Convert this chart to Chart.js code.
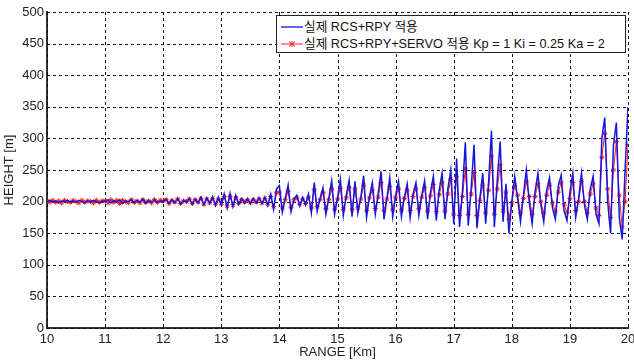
<!DOCTYPE html>
<html>
<head>
<meta charset="utf-8">
<script src="https://cdn.jsdelivr.net/npm/chart.js"></script>
<style>
  body { margin: 0; background: #fff; }
  #wrap { position: relative; width: 634px; height: 360px; }
  #legend {
    position: absolute; left: 276px; top: 15px; width: 348px; height: 36px;
    background: #fff; border: 1px solid #222;
    font-family: "Liberation Sans", "Noto Sans CJK KR", sans-serif; font-size: 12.7px; color: #111;
  }
  #legend .row { position: absolute; left: 0; height: 16px; width: 100%; }
  #legend svg { position: absolute; left: 3px; top: 3px; }
  #legend span { position: absolute; left: 27px; top: 0; line-height: 16px; white-space: nowrap; }
</style>
</head>
<body>
<div id="wrap">
  <canvas id="heightChart" width="634" height="360"></canvas>
  <div id="legend">
    <div class="row" style="top:3px">
      <svg width="24" height="10"><line x1="1" y1="5" x2="23" y2="5" stroke="#1515e0" stroke-width="1.3"/></svg>
      <span>실제 RCS+RPY 적용</span>
    </div>
    <div class="row" style="top:20px">
      <svg width="24" height="10">
        <line x1="1" y1="5" x2="23" y2="5" stroke="#ff1a1a" stroke-width="1"/>
        <line x1="12" y1="2" x2="12" y2="8" stroke="#ff1a1a" stroke-width="1"/>
        <line x1="9" y1="2.5" x2="15" y2="7.5" stroke="#ff1a1a" stroke-width="1"/>
        <line x1="9" y1="7.5" x2="15" y2="2.5" stroke="#ff1a1a" stroke-width="1"/>
      </svg>
      <span>실제 RCS+RPY+SERVO 적용 Kp = 1 Ki = 0.25 Ka = 2</span>
    </div>
  </div>
</div>
<script>
// range samples [Km]
const rangeKm = [
  10.00,10.05,10.10,10.15,10.20,10.25,10.30,10.35,10.40,10.45,10.50,10.55,10.60,10.65,10.70,10.75,10.80,10.85,10.90,10.95,
  11.00,11.05,11.10,11.15,11.20,11.25,11.30,11.35,11.40,11.45,11.50,11.55,11.60,11.65,11.70,11.75,11.80,11.85,11.90,11.95,
  12.00,12.05,12.10,12.15,12.20,12.25,12.30,12.35,12.40,12.45,12.50,12.55,12.60,12.65,12.70,12.75,12.80,12.85,12.90,12.95,
  13.00,13.05,13.10,13.15,13.20,13.25,13.30,13.35,13.40,13.45,13.50,13.55,13.60,13.65,13.70,13.75,13.80,13.85,13.90,13.95,
  14.00,14.05,14.10,14.15,14.20,14.25,14.30,14.35,14.40,14.45,14.50,14.55,14.60,14.65,14.70,14.75,14.80,14.85,14.90,14.95,
  15.00,15.05,15.10,15.15,15.20,15.25,15.30,15.35,15.40,15.45,15.50,15.55,15.60,15.65,15.70,15.75,15.80,15.85,15.90,15.95,
  16.00,16.05,16.10,16.15,16.20,16.25,16.30,16.35,16.40,16.45,16.50,16.55,16.60,16.65,16.70,16.75,16.80,16.85,16.90,16.95,
  17.00,17.05,17.10,17.15,17.20,17.25,17.30,17.35,17.40,17.45,17.50,17.55,17.60,17.65,17.70,17.75,17.80,17.85,17.90,17.95,
  18.00,18.05,18.10,18.15,18.20,18.25,18.30,18.35,18.40,18.45,18.50,18.55,18.60,18.65,18.70,18.75,18.80,18.85,18.90,18.95,
  19.00,19.05,19.10,19.15,19.20,19.25,19.30,19.35,19.40,19.45,19.50,19.55,19.60,19.65,19.70,19.75,19.80,19.85,19.90,19.95,20.00
];

// height [m], RCS+RPY only
const heightRcsRpy = [
  200,202,199,201,198,201,200,202,199,201,199,202,200,198,201,199,202,200,198,201,
  200,203,198,202,199,203,197,201,200,203,198,202,199,204,197,202,199,203,198,201,
  200,204,197,203,198,205,196,202,199,205,196,204,198,207,195,206,197,208,194,207,
  195,212,190,213,192,210,196,205,198,204,197,205,198,206,197,207,194,212,188,220,
  225,183,205,226,184,204,210,193,207,195,212,182,230,185,205,222,180,205,233,180,
  205,235,178,210,234,176,232,182,205,241,175,208,230,180,212,248,172,205,238,176,
  210,232,176,207,228,174,212,230,178,210,233,172,215,240,170,218,245,172,220,250,
  165,268,160,215,294,162,220,290,158,205,245,165,230,312,160,235,295,168,228,150,
  200,240,205,168,210,250,200,165,215,245,195,168,218,238,190,172,225,242,185,170,
  215,245,175,205,245,195,172,220,240,180,165,300,333,200,150,290,325,175,140,250,350
];

// height [m], RCS+RPY+SERVO (Kp = 1, Ki = 0.25, Ka = 2)
const heightServo = [
  201,199,202,199,201,198,202,200,199,202,200,198,202,199,201,200,198,202,199,201,
  201,198,203,199,202,197,202,200,198,203,199,201,198,203,199,201,198,203,199,202,
  201,203,197,202,199,204,197,201,200,204,197,203,199,205,196,204,198,205,196,204,
  196,208,193,208,195,206,197,203,199,203,198,203,199,204,198,205,196,208,192,214,
  215,190,203,216,191,203,206,196,204,197,207,190,219,192,203,214,189,203,220,188,
  204,221,188,206,222,187,220,190,204,226,186,206,218,189,207,230,186,204,224,187,
  207,220,187,205,218,186,208,220,189,207,222,185,209,227,184,211,230,185,212,235,
  180,240,178,208,252,180,212,246,178,202,226,182,218,272,180,220,258,185,215,172,
  198,225,210,182,205,232,208,180,208,228,200,182,210,226,198,184,215,230,195,183,
  205,230,186,200,232,200,182,212,228,190,178,270,308,220,175,250,295,210,160,200,290
];

const xTicks = [10, 11, 12, 13, 14, 15, 16, 17, 18, 19, 20];
const yTicks = [0, 50, 100, 150, 200, 250, 300, 350, 400, 450, 500];

const toPoints = ys => ys.map((y, i) => ({ x: rangeKm[i], y }));

const axisFont = { family: '"Liberation Sans", Arial, sans-serif', size: 13 };

// dotted grid drawn under the data lines
const dottedGrid = {
  id: 'dottedGrid',
  beforeDatasetsDraw(chart) {
    const { ctx, chartArea: a, scales: { x, y } } = chart;
    ctx.save();
    ctx.strokeStyle = '#111';
    ctx.lineWidth = 1;
    ctx.setLineDash([3, 3]);
    xTicks.forEach(v => {
      const px = Math.round(x.getPixelForValue(v)) + 0.5;
      ctx.beginPath(); ctx.moveTo(px, a.top); ctx.lineTo(px, a.bottom); ctx.stroke();
    });
    yTicks.forEach(v => {
      const py = Math.round(y.getPixelForValue(v)) + 0.5;
      ctx.beginPath(); ctx.moveTo(a.left, py); ctx.lineTo(a.right, py); ctx.stroke();
    });
    ctx.restore();
  }
};

new Chart(document.getElementById('heightChart'), {
  type: 'line',
  data: {
    datasets: [
      {
        label: '실제 RCS+RPY 적용',
        data: toPoints(heightRcsRpy),
        borderColor: '#1515e0',
        borderWidth: 1.5,
        pointRadius: 0,
        tension: 0
      },
      {
        label: '실제 RCS+RPY+SERVO 적용 Kp = 1 Ki = 0.25 Ka = 2',
        data: toPoints(heightServo),
        borderColor: '#ff1a1a',
        borderWidth: 1,
        pointStyle: 'star',
        pointRadius: 2.5,
        pointBorderWidth: 1,
        pointBorderColor: '#ff1a1a',
        pointBackgroundColor: '#ff1a1a',
        tension: 0
      }
    ]
  },
  options: {
    responsive: false,
    animation: false,
    layout: { padding: { top: 12, right: 6, left: 0, bottom: 0 } },
    plugins: { legend: { display: false }, tooltip: { enabled: false } },
    scales: {
      x: {
        type: 'linear',
        min: 10, max: 20,
        afterBuildTicks: s => { s.ticks = xTicks.map(v => ({ value: v })); },
        afterFit: s => { s.height = 32; s.paddingLeft = 0; s.paddingRight = 0; },
        grid: { drawOnChartArea: false, drawTicks: false },
        border: { display: true, color: '#333', width: 2 },
        ticks: { color: '#222', font: axisFont, padding: 4, maxRotation: 0 },
        title: { display: true, text: 'RANGE [Km]', color: '#222', font: axisFont, padding: 0 }
      },
      y: {
        min: 0, max: 500,
        afterBuildTicks: s => { s.ticks = yTicks.map(v => ({ value: v })); },
        afterFit: s => { s.width = 47; },
        grid: { drawOnChartArea: false, drawTicks: false },
        border: { display: true, color: '#333', width: 2 },
        ticks: { color: '#222', font: axisFont, padding: 3 },
        title: { display: true, text: 'HEIGHT [m]', color: '#222', font: axisFont, padding: { top: 2, bottom: 0 } }
      }
    }
  },
  plugins: [dottedGrid]
});
</script>
</body>
</html>
